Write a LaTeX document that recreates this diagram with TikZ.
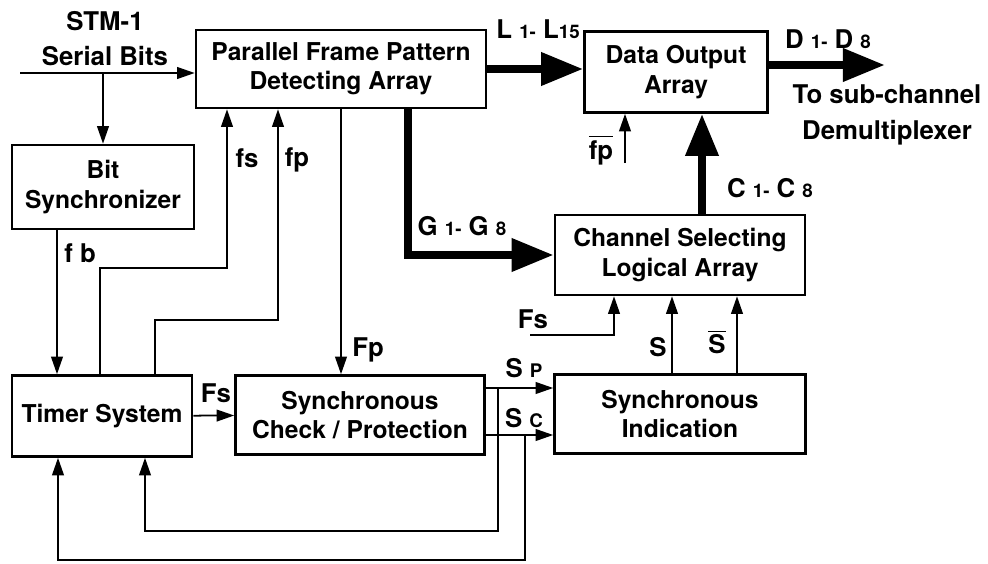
\documentclass[tikz,border=0pt]{standalone}
\usepackage{amsmath}
\usepackage{fontspec}
\setmainfont{TeX Gyre Heros}
\usetikzlibrary{arrows.meta,positioning}
\newcommand{\smallpart}[1]{{\fontsize{16}{16}\selectfont #1}}

\begin{document}
\begin{tikzpicture}[
    x=0.03cm, y=-0.03cm,
    box/.style={rectangle, draw, line width=2.2pt, align=center, font=\fontsize{21}{25}\selectfont\bfseries},
    lbl/.style={align=center, inner sep=0pt, font=\fontsize{22}{26}\selectfont\bfseries},
    sig/.style={-{Triangle[length=15pt, width=10pt]}, line width=1.5pt},
    bus/.style={-{Triangle[length=36pt, width=27pt]}, line width=7pt}
]
    \useasboundingbox (0,0) rectangle (988,563);

    % Blocks
    \node[box, minimum width=8.7cm, minimum height=2.34cm] (pfpd) at (341,69) {Parallel Frame Pattern\\Detecting Array};
    \node[box, minimum width=5.46cm, minimum height=2.52cm] (bitsync) at (103,187) {Bit\\Synchronizer};
    \node[box, minimum width=5.49cm, minimum height=2.43cm] (dataout) at (676,72) {Data Output\\Array};
    \node[box, minimum width=7.5cm, minimum height=2.4cm] (chansel) at (680,255) {Channel Selecting\\Logical Array};
    \node[box, minimum width=5.4cm, minimum height=2.43cm] (timer) at (102,416) {Timer System};
    \node[box, minimum width=7.47cm, minimum height=2.37cm] (synccheck) at (360,415) {Synchronous\\Check / Protection};
    \node[box, minimum width=7.53cm, minimum height=2.37cm] (syncind) at (680,414) {Synchronous\\Indication};

    % Helper points
    \coordinate (stm) at (20,73);
    \coordinate (split) at (103,73);
    \coordinate (fbx) at (57,0);
    \coordinate (fsa) at (100,0);
    \coordinate (fsb) at (227,268);
    \coordinate (fpa) at (155,0);
    \coordinate (fpb) at (278,320);
    \coordinate (gx) at (408,0);
    \coordinate (cx) at (702,0);
    \coordinate (demux) at (885,65);
    \coordinate (fpbar) at (625,163);
    \coordinate (fsin) at (530,335);
    \coordinate (fsx) at (614,0);
    \coordinate (sx) at (672,0);
    \coordinate (sbx) at (737,0);
    \coordinate (spy) at (0,388);
    \coordinate (scy) at (0,435);
    \coordinate (spj) at (498,388);
    \coordinate (scj) at (525,435);
    \coordinate (fbp) at (145,531);
    \coordinate (fbc) at (58,560);

    % Thin arrows
    \draw[sig] (stm) -- (stm -| pfpd.west);
    \draw[sig] (split) -- (split |- bitsync.north);
    \draw[sig] (bitsync.south -| fbx) -- (timer.north -| fbx);
    \draw[sig] (timer.north -| fsa) |- (fsb) -- (fsb |- pfpd.south);
    \draw[sig] (timer.north -| fpa) |- (fpb) -- (fpb |- pfpd.south);
    \draw[sig] (pfpd.south) -- (pfpd.south |- synccheck.north);
    \draw[sig] (timer) -- (synccheck);
    \draw[sig] (synccheck.east |- spy) -- (syncind.west |- spy);
    \draw[sig] (synccheck.east |- scy) -- (syncind.west |- scy);
    \draw[sig] (spj) |- (fbp) -- (fbp |- timer.south);
    \draw[sig] (scj) |- (fbc) -- (fbc |- timer.south);
    \draw[sig] (fpbar) -- (fpbar |- dataout.south);
    \draw[sig] (fsin) -| (chansel.south -| fsx);
    \draw[sig] (syncind.north -| sx) -- (chansel.south -| sx);
    \draw[sig] (syncind.north -| sbx) -- (chansel.south -| sbx);

    % Bus arrows
    \draw[bus] (pfpd.east) -- (pfpd.east -| dataout.west);
    \draw[bus] (pfpd.south -| gx) |- (chansel.west);
    \draw[bus] (chansel.north -| cx) -- (dataout.south -| cx);
    \draw[bus] (dataout.east |- demux) -- (demux);

    % Labels
    \node[lbl, font=\fontsize{22}{30}\selectfont\bfseries] (lstm) at (105,39) {STM-1\\Serial Bits};
    \node[lbl] (lfs) at (247,158) {fs};
    \node[lbl] (lfp) at (297,160) {fp};
    \node[lbl] (lfb) at (80,253) {f b};
    \node[lbl] (lg) at (462,226) {G \smallpart{1-} G \smallpart{8}};
    \node[lbl] (ll) at (538,29) {L \smallpart{1-} L\smallpart{15}};
    \node[lbl] (ld) at (828,39) {D \smallpart{1-} D \smallpart{8}};
    \node[lbl, font=\fontsize{22}{31}\selectfont\bfseries] (ldemux) at (887,115) {To sub-channel\\Demultiplexer};
    \node[lbl] (lfpbar) at (601,150) {$\overline{\text{fp}}$};
    \node[lbl] (lc) at (770,188) {C \smallpart{1-} C \smallpart{8}};
    \node[lbl] (lfsin) at (533,319) {Fs};
    \node[lbl] (ls) at (658,347) {S};
    \node[lbl] (lsbar) at (717,342) {$\overline{\text{S}}$};
    \node[lbl] (lsp) at (524,368) {S \smallpart{P}};
    \node[lbl] (lsc) at (524,418) {S \smallpart{C}};
    \node[lbl] (lfsout) at (216,393) {Fs};
    \node[lbl] (lfpout) at (368,350) {Fp};

\end{tikzpicture}
\end{document}
